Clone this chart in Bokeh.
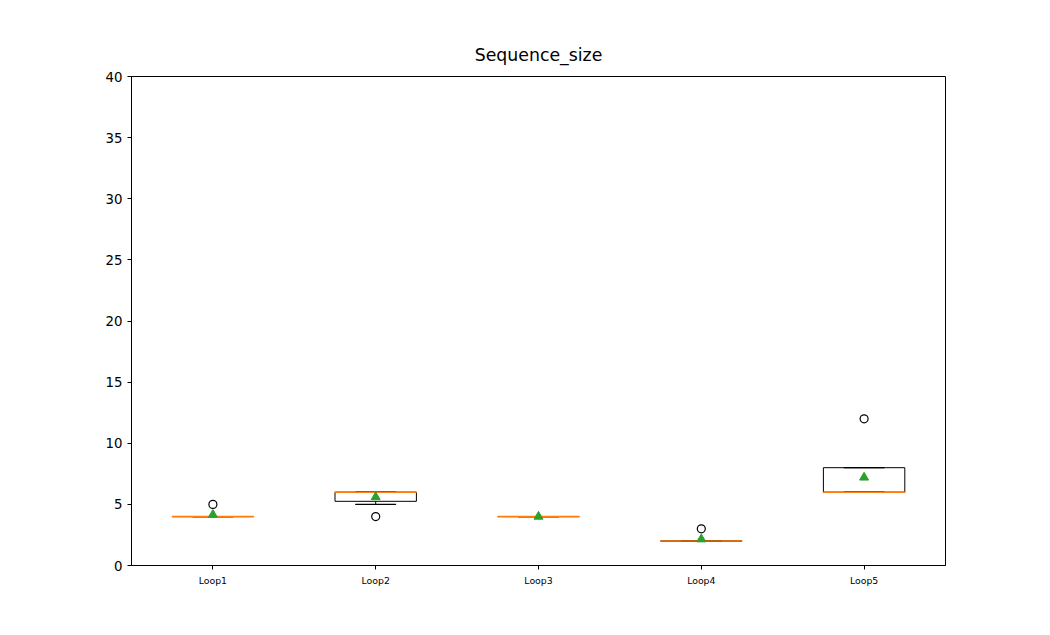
from bokeh.plotting import figure
from bokeh.models import ColumnDataSource, FixedTicker, Range1d
from bokeh.embed import file_html
from bokeh.resources import INLINE

labels = ["Loop1", "Loop2", "Loop3", "Loop4", "Loop5"]
q1 = [4, 5.25, 4, 2, 6]
q3 = [4, 6, 4, 2, 8]
medians = [4, 6, 4, 2, 6]
whisk_lo = [4, 5, 4, 2, 6]
whisk_hi = [4, 6, 4, 2, 8]
means = [4.15, 5.6, 4.0, 2.15, 7.2]
out_x = [1, 2, 4, 5]
out_y = [5, 4, 3, 12]

xs = list(range(1, len(labels) + 1))
src = ColumnDataSource(dict(x=xs, q1=q1, q3=q3, med=medians, lo=whisk_lo, hi=whisk_hi, mean=means))

p = figure(width=1034, height=619, output_backend="svg", toolbar_location=None,
           x_range=Range1d(0.5, 5.5), y_range=Range1d(0, 40),
           min_border_left=131, min_border_right=89, min_border_top=76, min_border_bottom=54)
p.title.text = "Sequence_size"
p.title.align = "center"
p.title.text_font = "DejaVu Sans"
p.title.text_font_style = "normal"
p.title.text_font_size = "13pt"
p.title.text_color = "black"
p.title.standoff = 24
p.grid.visible = False
p.outline_line_color = "black"

p.segment("x", "q3", "x", "hi", source=src, color="black")
p.segment("x", "q1", "x", "lo", source=src, color="black")
p.vbar(x="x", width=0.5, bottom="q1", top="q3", source=src, fill_color=None, line_color="black")
p.rect(x="x", y="lo", width=0.25, height=0.001, source=src, line_color="black", fill_color=None)
p.rect(x="x", y="hi", width=0.25, height=0.001, source=src, line_color="black", fill_color=None)
p.rect(x="x", y="med", width=0.5, height=0.001, source=src, line_color="#ff7f0e", line_width=1.5, fill_color=None)
p.scatter("x", "mean", source=src, marker="triangle", size=9, color="#2ca02c")
p.scatter(out_x, out_y, marker="circle", size=8, fill_color=None, line_color="black", line_width=1.2)

p.xaxis.ticker = FixedTicker(ticks=xs)
p.xaxis.major_label_overrides = {i: l for i, l in zip(xs, labels)}
p.xaxis.major_label_text_font_size = "7pt"
p.yaxis.ticker = FixedTicker(ticks=list(range(0, 41, 5)))
p.yaxis.major_label_text_font_size = "10pt"
for ax in (p.xaxis, p.yaxis):
    ax.minor_tick_line_color = None
    ax.major_label_text_font = "DejaVu Sans"
    ax.major_label_text_color = "black"
    ax.axis_line_color = "black"
    ax.major_tick_out = 4
    ax.major_tick_in = 0

open("out.html", "w").write(file_html(p, INLINE))
